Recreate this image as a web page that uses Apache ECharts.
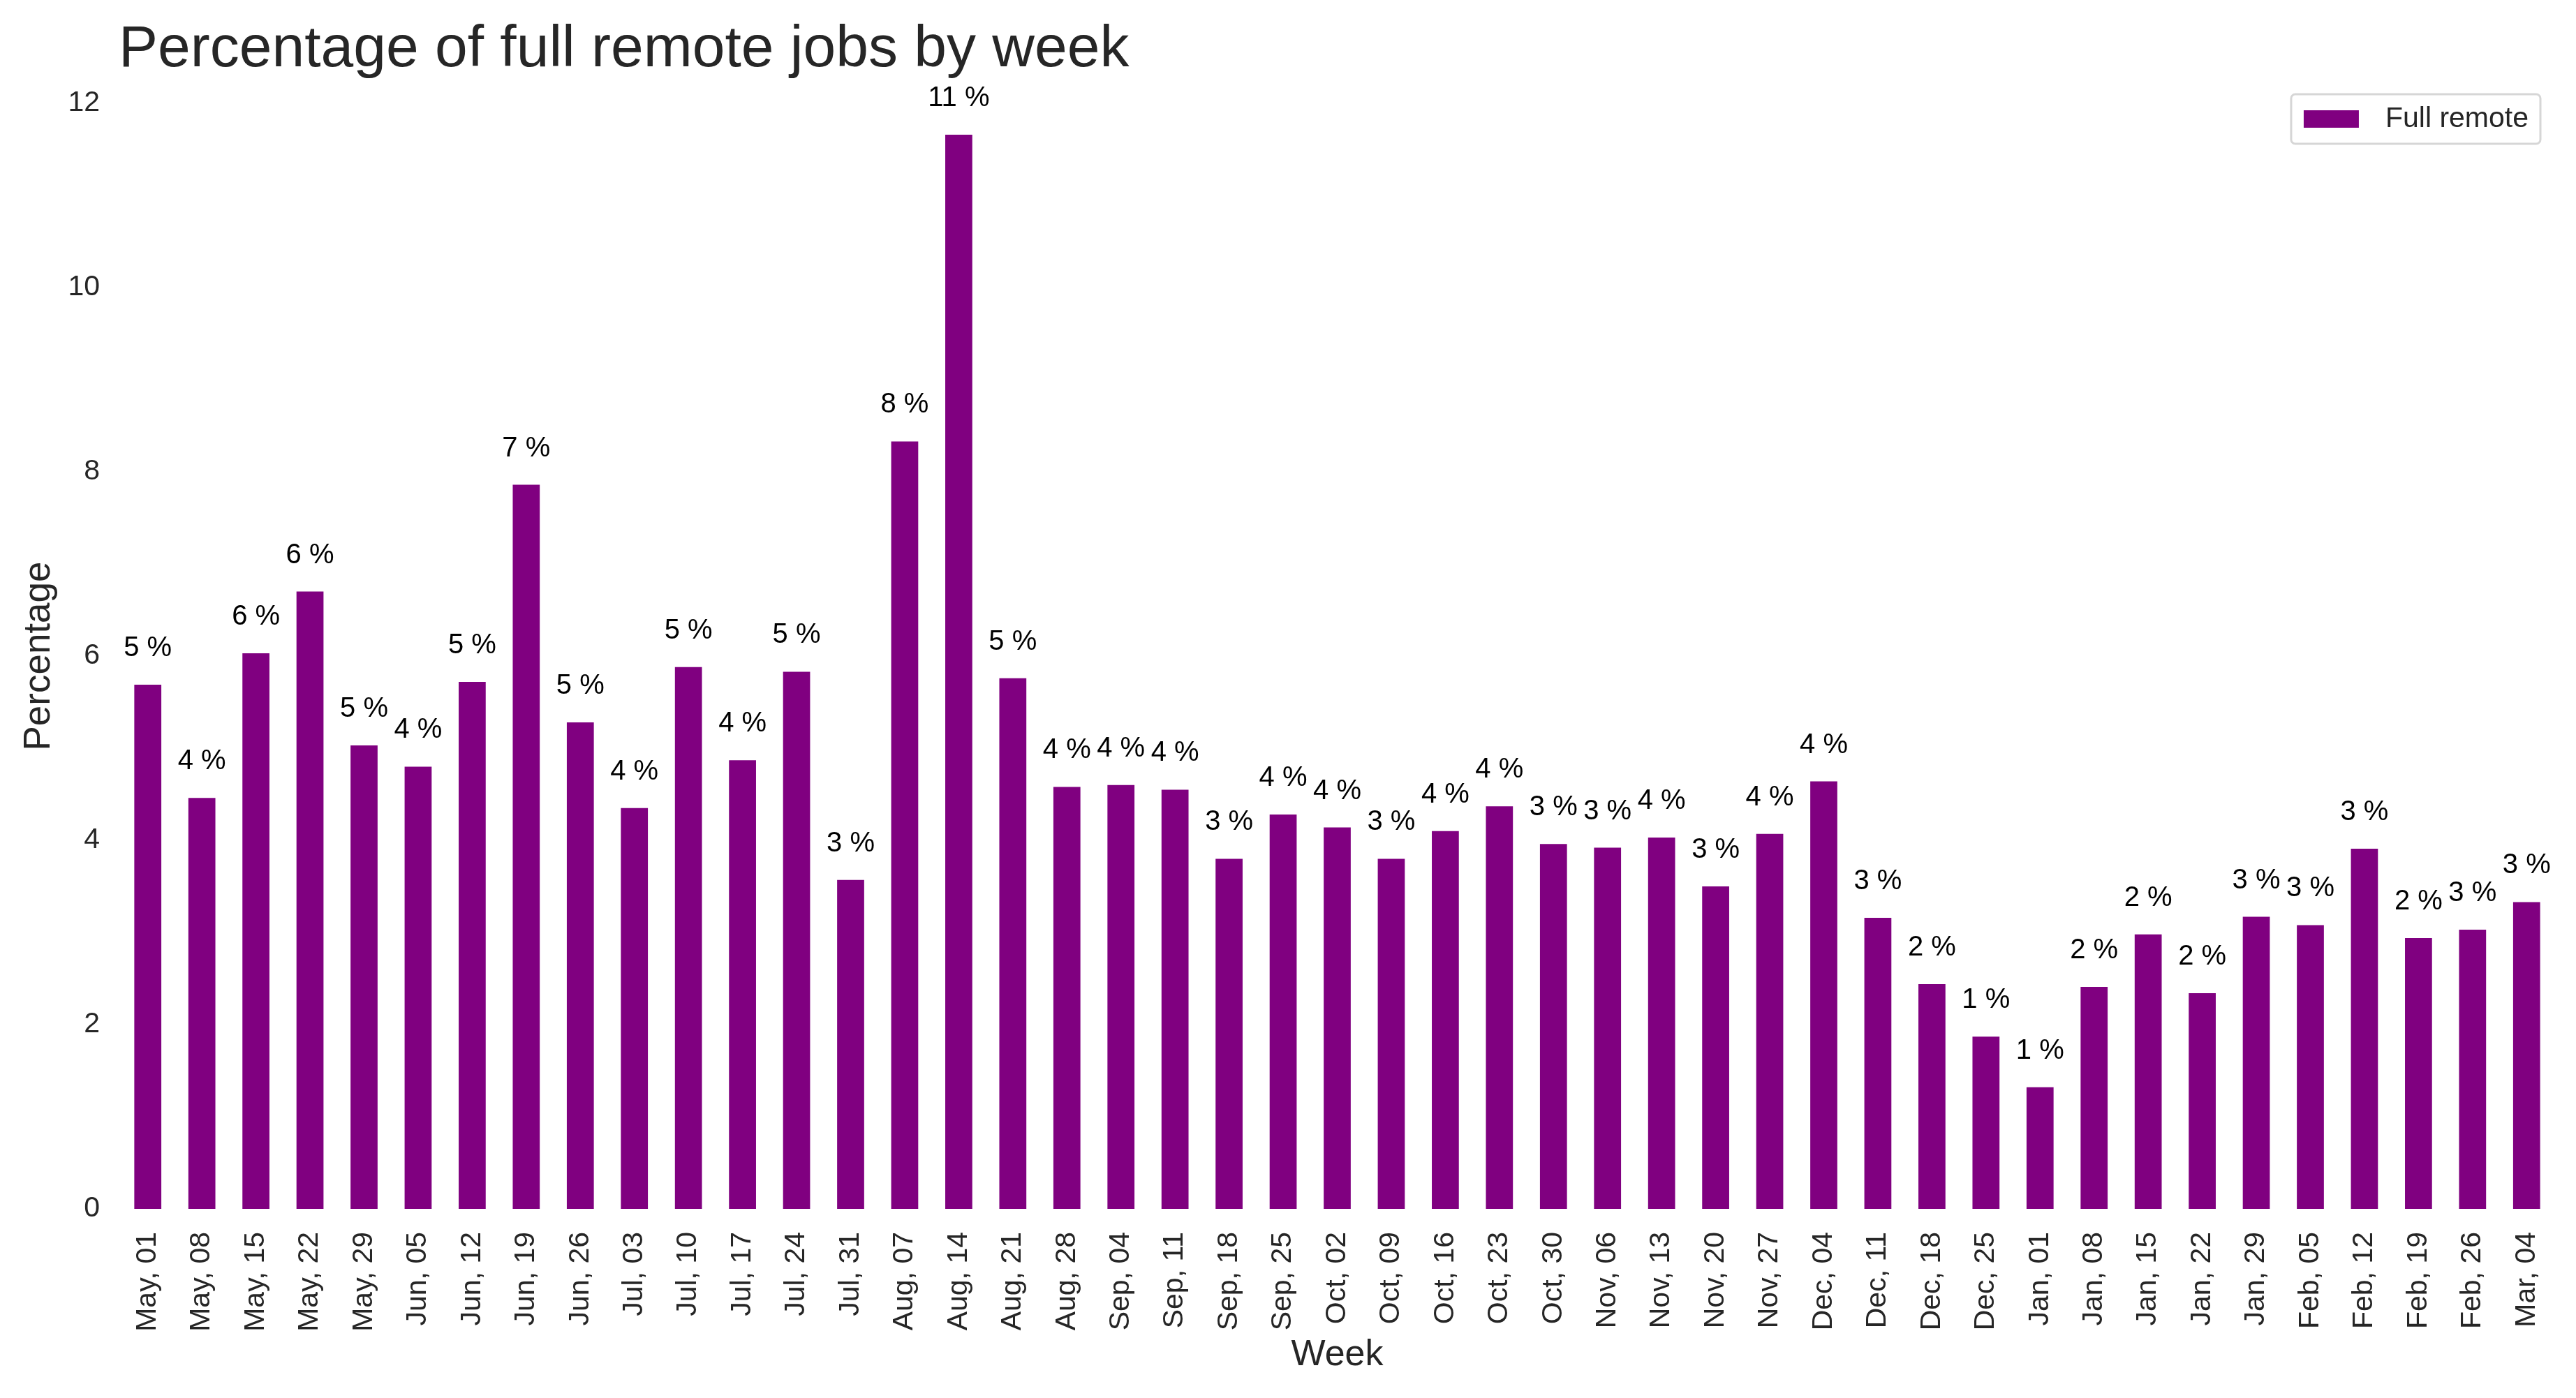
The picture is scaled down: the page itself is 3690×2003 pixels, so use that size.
<!DOCTYPE html>
<html>
<head>
<meta charset="utf-8">
<script src="https://cdn.jsdelivr.net/npm/echarts@6/dist/echarts.min.js"></script>
<style>
html,body{margin:0;padding:0;background:#fff;}
#chart{width:3690px;height:2003px;}
</style>
</head>
<body>
<div id="chart"></div>
<script>
const weeks = ["May, 01","May, 08","May, 15","May, 22","May, 29","Jun, 05","Jun, 12","Jun, 19","Jun, 26","Jul, 03","Jul, 10","Jul, 17","Jul, 24","Jul, 31","Aug, 07","Aug, 14","Aug, 21","Aug, 28","Sep, 04","Sep, 11","Sep, 18","Sep, 25","Oct, 02","Oct, 09","Oct, 16","Oct, 23","Oct, 30","Nov, 06","Nov, 13","Nov, 20","Nov, 27","Dec, 04","Dec, 11","Dec, 18","Dec, 25","Jan, 01","Jan, 08","Jan, 15","Jan, 22","Jan, 29","Feb, 05","Feb, 12","Feb, 19","Feb, 26","Mar, 04"];
const fullRemote = [5.69,4.46,6.03,6.70,5.03,4.80,5.72,7.86,5.28,4.35,5.88,4.87,5.83,3.57,8.33,11.66,5.76,4.58,4.60,4.55,3.80,4.28,4.14,3.80,4.10,4.37,3.96,3.92,4.03,3.50,4.07,4.64,3.16,2.44,1.87,1.32,2.41,2.98,2.34,3.17,3.08,3.91,2.94,3.03,3.33];
const yTicks = {min: 0, max: 12, interval: 2};

const FONT = '"Liberation Sans", Arial, sans-serif';
const TXT = '#262626';
const chart = echarts.init(document.getElementById('chart'));
chart.setOption({
  backgroundColor: '#ffffff',
  animation: false,
  textStyle: {fontFamily: FONT},
  title: {
    text: 'Percentage of full remote jobs by week',
    left: 170, top: 30, padding: 0,
    textStyle: {fontFamily: FONT, fontSize: 84, fontWeight: 'normal', color: TXT}
  },
  legend: {
    right: 51, top: 135,
    padding: [15, 17, 15, 18],
    backgroundColor: '#ffffff',
    borderColor: '#d6d6d6', borderWidth: 3, borderRadius: 6,
    itemWidth: 79, itemHeight: 25,
    icon: 'rect',
    textStyle: {fontFamily: FONT, fontSize: 41, color: TXT, padding: [0, 0, 0, 33]},
    data: ['Full remote']
  },
  grid: {left: 173, right: 32, top: 148, bottom: 271, containLabel: false},
  xAxis: {
    type: 'category',
    data: weeks,
    name: 'Week', nameLocation: 'middle', nameGap: 183,
    nameTextStyle: {fontFamily: FONT, fontSize: 52, color: TXT},
    axisLine: {show: false}, axisTick: {show: false},
    axisLabel: {rotate: 90, interval: 0, margin: 33, fontFamily: FONT, fontSize: 41, color: TXT}
  },
  yAxis: {
    type: 'value',
    min: yTicks.min, max: yTicks.max, interval: yTicks.interval,
    name: 'Percentage', nameLocation: 'middle', nameGap: 90,
    nameTextStyle: {fontFamily: FONT, fontSize: 53, color: TXT},
    axisLine: {show: false}, axisTick: {show: false}, splitLine: {show: false},
    axisLabel: {margin: 30, fontFamily: FONT, fontSize: 41, color: TXT}
  },
  series: [{
    name: 'Full remote',
    type: 'bar',
    data: fullRemote,
    barWidth: '50%',
    itemStyle: {color: '#800080'},
    label: {
      show: true, position: 'top', distance: 32,
      fontFamily: FONT, fontSize: 40, color: '#000000',
      formatter: p => Math.floor(p.value) + ' %'
    }
  }]
});
</script>
</body>
</html>
